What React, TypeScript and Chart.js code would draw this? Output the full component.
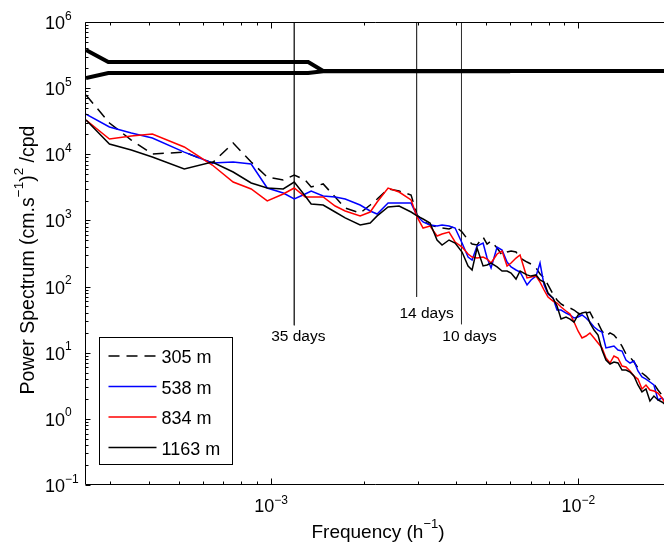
import React, { useEffect, useRef } from "react";
import { Chart, registerables } from "chart.js";

Chart.register(...registerables);

const FONT = '"Liberation Sans", Arial, Helvetica, sans-serif';

// Frequency (h^-1)
const frequency = [
  2.50e-4, 2.98e-4, 3.51e-4, 4.11e-4, 5.22e-4, 6.44e-4, 7.53e-4, 8.62e-4, 9.72e-4, 1.096e-3,
  1.190e-3, 1.292e-3, 1.351e-3, 1.478e-3, 1.617e-3, 1.743e-3, 1.950e-3, 2.102e-3, 2.215e-3, 2.404e-3,
  2.611e-3, 2.856e-3, 2.987e-3, 3.124e-3, 3.292e-3, 3.469e-3, 3.602e-3, 3.796e-3, 3.972e-3, 4.184e-3,
  4.377e-3, 4.511e-3, 4.682e-3, 4.898e-3, 5.047e-3, 5.200e-3, 5.440e-3, 5.647e-3, 5.862e-3, 6.041e-3,
  6.270e-3, 6.462e-3, 6.809e-3, 7.016e-3, 7.284e-3, 7.505e-3, 7.733e-3, 7.968e-3, 8.273e-3, 8.525e-3,
  8.784e-3, 9.120e-3, 9.397e-3, 9.683e-3, 9.977e-3, 1.028e-2, 1.059e-2, 1.091e-2, 1.125e-2, 1.159e-2,
  1.194e-2, 1.230e-2, 1.268e-2, 1.306e-2, 1.346e-2, 1.387e-2, 1.429e-2, 1.473e-2, 1.517e-2, 1.563e-2,
  1.611e-2, 1.660e-2, 1.710e-2, 1.762e-2, 1.816e-2, 1.871e-2, 1.928e-2,
];

const spec305 = [
  7.88e4, 2.97e4, 1.64e4, 1.01e4, 1.08e4, 7.38e3, 1.48e4, 7.64e3, 4.53e3, 4.08e3,
  4.86e3, 4.08e3, 3.20e3, 3.56e3, 2.26e3, 1.54e3, 1.29e3, 1.71e3, 2.11e3, 2.99e3,
  2.78e3, 2.42e3, 1.21e3, 980, 853, 795, 768, 742, 823, 668,
  506, 440, 425, 562, 440, 489, 383, 300, 333, 345,
  333, 270, 235, 219, 191, 155, 135, 106, 77, 62.6,
  54.5, 49.1, 47.4, 44.2, 39.8, 37.2, 39.8, 41.2, 31.2, 28.1,
  21.3, 17.9, 19.9, 18.5, 15.6, 12.6, 9.56, 8.61, 7.23, 5.87,
  4.93, 4.44, 3.87, 3.36, 2.73, 2.29, 1.80,
];

const spec538 = [
  4.06e4, 2.585e4, 2.10e4, 1.76e4, 1.08e4, 7.38e3, 7.64e3, 7.13e3, 3.09e3, 2.60e3,
  2.11e3, 2.51e3, 2.78e3, 2.34e3, 2.26e3, 2.11e3, 1.71e3, 1.39e3, 1.25e3, 1.83e3,
  1.83e3, 1.83e3, 1.17e3, 947, 853, 823, 853, 823, 768, 456,
  280, 252, 410, 456, 270, 191, 396, 357, 235, 198,
  178, 166, 106, 126, 144, 227, 106, 77, 67, 44.2,
  44.2, 39.8, 37.2, 33.5, 34.7, 37.2, 33.5, 29.1, 24.5, 22.0,
  20.6, 11.8, 12.2, 12.6, 11.0, 10.6, 7.75, 6.99, 7.49, 5.29,
  4.29, 4.00, 3.61, 3.25, 1.93, 2.07, 1.80,
];

const spec834 = [
  3.30e4, 1.70e4, 1.89e4, 2.03e4, 1.29e4, 6.88e3, 3.81e3, 2.99e3, 1.97e3, 2.51e3,
  3.09e3, 2.26e3, 2.26e3, 2.26e3, 1.65e3, 1.39e3, 1.17e3, 1.34e3, 1.90e3, 3.09e3,
  2.69e3, 2.04e3, 1.13e3, 768, 823, 581, 623, 668, 472, 396,
  311, 280, 270, 280, 261, 227, 311, 345, 205, 227,
  270, 300, 135, 139.5, 144, 117, 88.7, 69.5, 60.5, 56.4,
  49.1, 42.7, 38.5, 29.1, 21.3, 16.7, 17.9, 19.9, 16.7, 14.0,
  11.8, 8.32, 6.99, 8.92, 8.32, 6.29, 6.08, 5.29, 4.44, 4.00,
  2.83, 3.25, 2.73, 2.64, 2.46, 2.07, 1.62,
];

const spec1163 = [
  3.30e4, 1.43e4, 1.16e4, 9.10e3, 5.99e3, 7.64e3, 5.40e3, 3.68e3, 3.09e3, 2.99e3,
  3.81e3, 2.34e3, 1.77e3, 1.71e3, 1.34e3, 1.09e3, 853, 914, 1.17e3, 1.60e3,
  1.65e3, 1.34e3, 1.17e3, 1.05e3, 914, 506, 425, 506, 456, 333,
  205, 178, 383, 205, 212, 227, 198, 172, 172, 160,
  130, 172, 150, 144, 150, 126, 117, 80, 67, 51,
  32.3, 34.7, 32.3, 29.1, 37.2, 39.8, 41.2, 28.1, 22.0, 18.5,
  11.0, 7.75, 6.75, 7.23, 6.99, 5.47, 5.47, 5.11, 4.44, 3.25,
  2.55, 2.83, 1.86, 2.21, 1.93, 1.80, 1.62,
];

// Confidence bounds (thick lines)
const ciUpperFreq = [2.5e-4, 2.955e-4, 1.321e-3, 1.478e-3, 1.9e-2];
const ciUpper = [3.77e5, 2.48e5, 2.48e5, 1.82e5, 1.82e5];
const ciLowerFreq = [2.5e-4, 2.955e-4, 1.321e-3, 1.478e-3, 6.0e-3];
const ciLower = [1.42e5, 1.69e5, 1.69e5, 1.805e5, 1.805e5];

// Reference periods
const periodDays = [35, 14, 10];
const periodLabels = ["35 days", "14 days", "10 days"];
const periodLineBottom = [26, 70, 27];

const seriesLabels = ["305 m", "538 m", "834 m", "1163 m"];
const seriesColors = ["#000000", "#0000ff", "#ff0000", "#000000"];

const yTickExponents = [-1, 0, 1, 2, 3, 4, 5, 6];
const xTickExponents = [-3, -2];

const X_MIN = 2.5e-4;
const X_MAX = 1.9e-2;
const Y_MIN = 0.1;
const Y_MAX = 1e6;

type Part = { text: string; sup?: boolean };

function drawComposite(
  ctx: CanvasRenderingContext2D,
  parts: Part[],
  x: number,
  y: number,
  align: "left" | "center" | "right",
  mainSize: number,
  supSize: number,
  raise: number
) {
  const widths = parts.map((p) => {
    ctx.font = `${p.sup ? supSize : mainSize}px ${FONT}`;
    return ctx.measureText(p.text).width;
  });
  const total = widths.reduce((a, b) => a + b, 0);
  let cx = align === "center" ? x - total / 2 : align === "right" ? x - total : x;
  ctx.textAlign = "left";
  ctx.textBaseline = "alphabetic";
  parts.forEach((p, i) => {
    ctx.font = `${p.sup ? supSize : mainSize}px ${FONT}`;
    ctx.fillText(p.text, cx, p.sup ? y - raise : y);
    cx += widths[i];
  });
}

const expText = (e: number) => (e < 0 ? "\u2212" + Math.abs(e) : String(e));

const periodLabelOffset = [
  [4, 16],
  [10, 21],
  [8, 17],
];

const matlabPlugin = {
  id: "matlabAxes",
  afterDatasetsDraw(chart: any) {
    const { ctx, chartArea: a, scales } = chart;
    const xs = scales.x;
    const ys = scales.y;
    ctx.save();
    ctx.fillStyle = "#000";
    ctx.strokeStyle = "#000";

    // period labels
    ctx.font = `15.5px ${FONT}`;
    ctx.textAlign = "center";
    ctx.textBaseline = "alphabetic";
    periodDays.forEach((d, i) => {
      const px = xs.getPixelForValue(1 / (d * 24));
      const py = ys.getPixelForValue(periodLineBottom[i]);
      ctx.fillText(periodLabels[i], px + periodLabelOffset[i][0], py + periodLabelOffset[i][1]);
    });

    // axes frame
    const L = a.left - 0.5;
    const B = a.bottom - 0.5;
    const T = a.top + 0.5;
    ctx.lineWidth = 1;
    ctx.beginPath();
    ctx.moveTo(L, T);
    ctx.lineTo(L, B);
    ctx.lineTo(a.right + 2, B);
    ctx.moveTo(L, T);
    ctx.lineTo(a.right + 2, T);
    ctx.stroke();

    // y ticks
    ctx.beginPath();
    for (let e = -1; e <= 6; e++) {
      const py = Math.round(ys.getPixelForValue(Math.pow(10, e))) + 0.5;
      ctx.moveTo(L, py);
      ctx.lineTo(L + 5, py);
      if (e < 6) {
        for (let k = 2; k <= 9; k++) {
          const pm = Math.round(ys.getPixelForValue(k * Math.pow(10, e))) + 0.5;
          ctx.moveTo(L, pm);
          ctx.lineTo(L + 3, pm);
        }
      }
    }
    // x ticks (bottom and top, inward)
    for (let e = -4; e <= -2; e++) {
      for (let k = 1; k <= 9; k++) {
        const v = k * Math.pow(10, e);
        if (v < X_MIN || v > X_MAX) continue;
        const px = Math.round(xs.getPixelForValue(v)) + 0.5;
        const len = k === 1 ? 6 : 3;
        ctx.moveTo(px, B);
        ctx.lineTo(px, B - len);
        ctx.moveTo(px, T);
        ctx.lineTo(px, T + len);
      }
    }
    ctx.stroke();

    // y tick labels
    yTickExponents.forEach((e) => {
      const py = ys.getPixelForValue(Math.pow(10, e));
      drawComposite(ctx, [{ text: "10" }, { text: expText(e), sup: true }], a.left - 41, py + 7, "left", 18, 12, 9.5);
    });
    // x tick labels
    xTickExponents.forEach((e) => {
      const px = xs.getPixelForValue(Math.pow(10, e));
      drawComposite(ctx, [{ text: "10" }, { text: expText(e), sup: true }], px, a.bottom + 27, "center", 18, 12, 8.5);
    });

    // x axis title
    drawComposite(
      ctx,
      [{ text: "Frequency (h" }, { text: "\u22121", sup: true }, { text: ")" }],
      378,
      a.bottom + 53,
      "center",
      19,
      13,
      10.5
    );

    // y axis title
    ctx.save();
    ctx.translate(33.5, 260);
    ctx.rotate(-Math.PI / 2);
    drawComposite(
      ctx,
      [
        { text: "Power Spectrum (cm.s" },
        { text: "\u22121", sup: true },
        { text: ")" },
        { text: "2", sup: true },
        { text: " /cpd" },
      ],
      0,
      0,
      "center",
      19.5,
      13.5,
      10.5
    );
    ctx.restore();

    // legend
    const bx = a.left + 13.5;
    const by = a.top + 315.5;
    ctx.fillStyle = "#fff";
    ctx.fillRect(bx, by, 133, 127);
    ctx.strokeStyle = "#000";
    ctx.lineWidth = 1;
    ctx.strokeRect(bx, by, 133, 127);
    seriesLabels.forEach((lab, i) => {
      const ry = by + 18.5 + i * 30.5;
      ctx.beginPath();
      ctx.strokeStyle = seriesColors[i];
      ctx.lineWidth = 1.5;
      ctx.setLineDash(i === 0 ? [11, 7] : []);
      ctx.moveTo(bx + 9, ry);
      ctx.lineTo(bx + 57, ry);
      ctx.stroke();
      ctx.setLineDash([]);
      ctx.fillStyle = "#000";
      ctx.font = `18px ${FONT}`;
      ctx.textAlign = "left";
      ctx.textBaseline = "alphabetic";
      ctx.fillText(lab, bx + 62, ry + 7);
    });

    ctx.restore();
  },
};

const toPoints = (xs: number[], ys: number[]) => xs.map((x, i) => ({ x, y: ys[i] }));

export default function App() {
  const canvasRef = useRef<HTMLCanvasElement | null>(null);

  useEffect(() => {
    if (!canvasRef.current) return;
    const lineBase = { pointRadius: 0, tension: 0, fill: false };
    const periodSets = periodDays.map((d, i) => ({
      ...lineBase,
      label: periodLabels[i],
      data: [
        { x: 1 / (d * 24), y: Y_MAX },
        { x: 1 / (d * 24), y: periodLineBottom[i] },
      ],
      borderColor: "#333333",
      borderWidth: 1,
      order: 7,
    }));
    const chart = new Chart(canvasRef.current, {
      type: "line",
      data: {
        datasets: [
          { ...lineBase, label: seriesLabels[3], data: toPoints(frequency, spec1163), borderColor: seriesColors[3], borderWidth: 1.5, order: 1 },
          { ...lineBase, label: seriesLabels[2], data: toPoints(frequency, spec834), borderColor: seriesColors[2], borderWidth: 1.5, order: 2 },
          { ...lineBase, label: seriesLabels[1], data: toPoints(frequency, spec538), borderColor: seriesColors[1], borderWidth: 1.5, order: 3 },
          { ...lineBase, label: seriesLabels[0], data: toPoints(frequency, spec305), borderColor: seriesColors[0], borderWidth: 1.5, borderDash: [11, 7], order: 4 },
          { ...lineBase, label: "upper", data: toPoints(ciUpperFreq, ciUpper), borderColor: "#000", borderWidth: 4, order: 5 },
          { ...lineBase, label: "lower", data: toPoints(ciLowerFreq, ciLower), borderColor: "#000", borderWidth: 4, order: 6 },
          ...periodSets,
        ] as any,
      },
      options: {
        responsive: false,
        animation: false,
        events: [],
        layout: { padding: { top: 22, right: 0, left: 0, bottom: 0 } },
        plugins: {
          legend: { display: false },
          tooltip: { enabled: false },
          title: { display: false },
        },
        scales: {
          x: {
            type: "logarithmic",
            min: X_MIN,
            max: X_MAX,
            grid: { display: false },
            border: { display: false },
            ticks: { display: false },
            afterFit: (s: any) => {
              s.height = 65;
            },
          },
          y: {
            type: "logarithmic",
            min: Y_MIN,
            max: Y_MAX,
            grid: { display: false },
            border: { display: false },
            ticks: { display: false },
            afterFit: (s: any) => {
              s.width = 86;
            },
          },
        },
      } as any,
      plugins: [matlabPlugin],
    });
    return () => chart.destroy();
  }, []);

  return (
    <div style={{ position: "absolute", left: 0, top: 0, width: 664, height: 550, background: "#fff" }}>
      <canvas ref={canvasRef} width={664} height={550} style={{ display: "block" }} />
    </div>
  );
}
